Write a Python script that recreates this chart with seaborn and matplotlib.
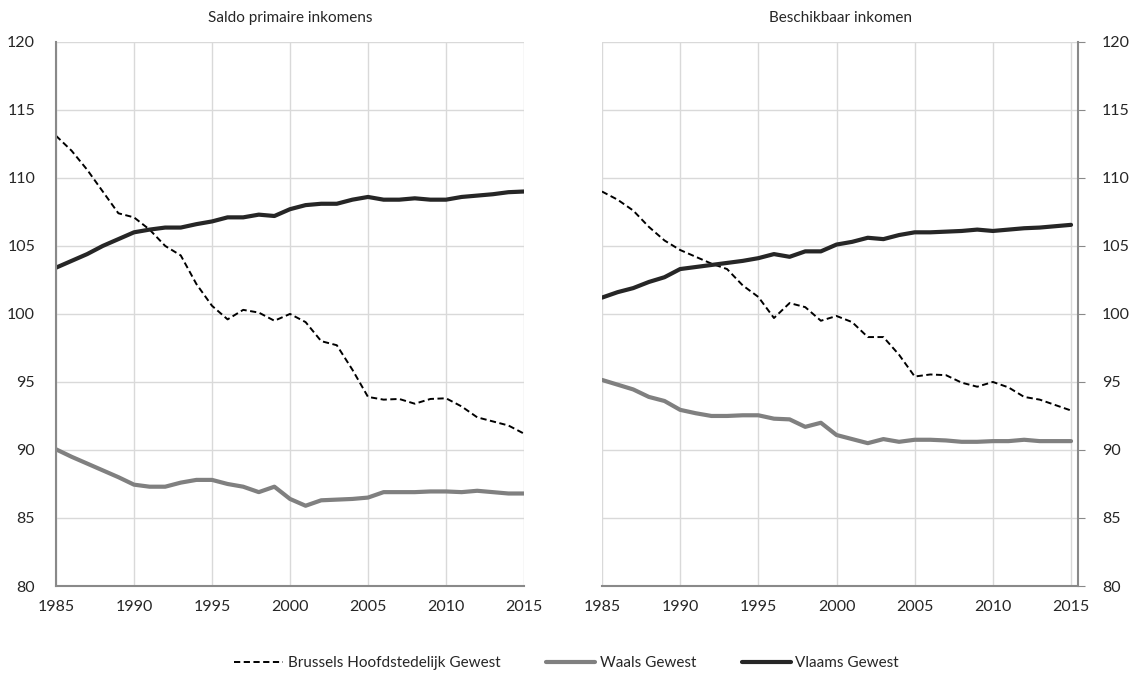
import numpy as np
import pandas as pd
import matplotlib
matplotlib.use("Agg")
import matplotlib.pyplot as plt
import seaborn as sns

# ---- data (index, per year) ----
years = list(range(1985, 2016))

# Saldo primaire inkomens
primair_brussel = [113.1, 112.0, 110.6, 109.0, 107.4, 107.1, 106.2, 105.0, 104.3, 102.2,
                   100.6, 99.6, 100.3, 100.1, 99.5, 100.0, 99.4, 98.0, 97.7, 95.9,
                   93.9, 93.7, 93.75, 93.4, 93.75, 93.8, 93.2, 92.4, 92.1, 91.8, 91.2]
primair_waals = [90.05, 89.5, 89.0, 88.5, 88.0, 87.45, 87.3, 87.3, 87.6, 87.8,
                 87.8, 87.5, 87.3, 86.9, 87.3, 86.4, 85.9, 86.3, 86.35, 86.4,
                 86.5, 86.9, 86.9, 86.9, 86.95, 86.95, 86.9, 87.0, 86.9, 86.8, 86.8]
primair_vlaams = [103.4, 103.9, 104.4, 105.0, 105.5, 106.0, 106.2, 106.35, 106.35, 106.6,
                  106.8, 107.1, 107.1, 107.3, 107.2, 107.7, 108.0, 108.1, 108.1, 108.4,
                  108.6, 108.4, 108.4, 108.5, 108.4, 108.4, 108.6, 108.7, 108.8, 108.95, 109.0]

# Beschikbaar inkomen
beschikbaar_brussel = [109.0, 108.4, 107.6, 106.4, 105.4, 104.7, 104.2, 103.7, 103.3, 102.1,
                       101.25, 99.7, 100.8, 100.5, 99.5, 99.85, 99.4, 98.3, 98.3, 97.0,
                       95.4, 95.55, 95.5, 94.95, 94.65, 95.0, 94.6, 93.9, 93.7, 93.3, 92.9]
beschikbaar_waals = [95.15, 94.8, 94.45, 93.9, 93.6, 92.95, 92.7, 92.5, 92.5, 92.55,
                     92.55, 92.3, 92.25, 91.7, 92.0, 91.1, 90.8, 90.5, 90.8, 90.6,
                     90.75, 90.75, 90.7, 90.6, 90.6, 90.65, 90.65, 90.75, 90.65, 90.65, 90.65]
beschikbaar_vlaams = [101.2, 101.6, 101.9, 102.35, 102.7, 103.3, 103.45, 103.6, 103.75, 103.9,
                      104.1, 104.4, 104.2, 104.6, 104.6, 105.1, 105.3, 105.6, 105.5, 105.8,
                      106.0, 106.0, 106.05, 106.1, 106.2, 106.1, 106.2, 106.3, 106.35, 106.45, 106.55]

regions = ["Brussels Hoofdstedelijk Gewest", "Waals Gewest", "Vlaams Gewest"]
panel_titles = ["Saldo primaire inkomens", "Beschikbaar inkomen"]

# ==========================
# long-form table for seaborn
# ==========================
rows = []
panels = {
    panel_titles[0]: [primair_brussel, primair_waals, primair_vlaams],
    panel_titles[1]: [beschikbaar_brussel, beschikbaar_waals, beschikbaar_vlaams],
}
for panel, series in panels.items():
    for reg, vals in zip(regions, series):
        for yr, v in zip(years, vals):
            rows.append({"panel": panel, "regio": reg, "jaar": yr, "waarde": v})
df = pd.DataFrame(rows)

sns.set_style("white")
plt.rcParams["font.family"] = ["Lato", "DejaVu Sans"]

colors = {regions[0]: "#000000", regions[1]: "#808080", regions[2]: "#262626"}
widths = {regions[0]: 1.4, regions[1]: 3.0, regions[2]: 3.0}
dashes = {regions[0]: (3.2, 1.8), regions[1]: "", regions[2]: ""}

fig = plt.figure(figsize=(11.33, 6.81), dpi=100)
ax_l = fig.add_axes([0.0494, 0.1395, 0.4131, 0.799])
ax_r = fig.add_axes([0.5313, 0.1395, 0.4205, 0.799])

spine_c = "#898989"
grid_c = "#d9d9d9"

for ax, panel in zip([ax_l, ax_r], panel_titles):
    sub = df[df["panel"] == panel]
    for reg in regions:
        d = sub[sub["regio"] == reg]
        sns.lineplot(data=d, x="jaar", y="waarde", ax=ax, color=colors[reg],
                     linewidth=widths[reg], label=reg, legend=False)
        line = ax.get_lines()[-1]
        if dashes[reg]:
            line.set_dashes(dashes[reg])
    ax.set_ylim(80, 120)
    ax.set_yticks(range(80, 121, 5))
    ax.set_xticks(range(1985, 2016, 5))
    ax.grid(True, color=grid_c, linewidth=1.0)
    ax.set_axisbelow(True)
    ax.set_xlabel("")
    ax.set_ylabel("")
    ax.set_title(panel, fontsize=11, pad=14)
    ax.tick_params(axis="x", length=0, labelsize=11.5, pad=10)
    ax.tick_params(axis="y", labelsize=11.5, length=5, color=spine_c, pad=10)
    for s in ax.spines.values():
        s.set_visible(False)
    ax.spines["bottom"].set_visible(True)
    ax.spines["bottom"].set_color(spine_c)
    ax.spines["bottom"].set_linewidth(1.5)

ax_l.set_xlim(1985, 2015)
ax_l.spines["left"].set_visible(True)
ax_l.spines["left"].set_color(spine_c)
ax_l.spines["left"].set_linewidth(1.5)
ax_l.set_xticks([1985, 1995, 2005, 2015], minor=True)
ax_l.tick_params(axis="x", which="minor", length=5, color=spine_c, direction="out")

ax_r.set_xlim(1985, 2015.47)
ax_r.yaxis.tick_right()
ax_r.spines["right"].set_visible(True)
ax_r.spines["right"].set_color(spine_c)
ax_r.spines["right"].set_linewidth(1.5)
ax_r.set_xticks([1990, 2000, 2010], minor=True)
ax_r.tick_params(axis="x", which="minor", length=5, color=spine_c, direction="out")
ax_r.tick_params(axis="y", labelright=True, labelleft=False, pad=12)

handles, labels = ax_l.get_legend_handles_labels()
fig.legend(handles, labels, loc="center", bbox_to_anchor=(0.5, 0.026), ncol=3,
           frameon=False, fontsize=11, handlelength=3.2, handletextpad=0.3,
           columnspacing=3.0)

fig.savefig("out.png", dpi=100)
